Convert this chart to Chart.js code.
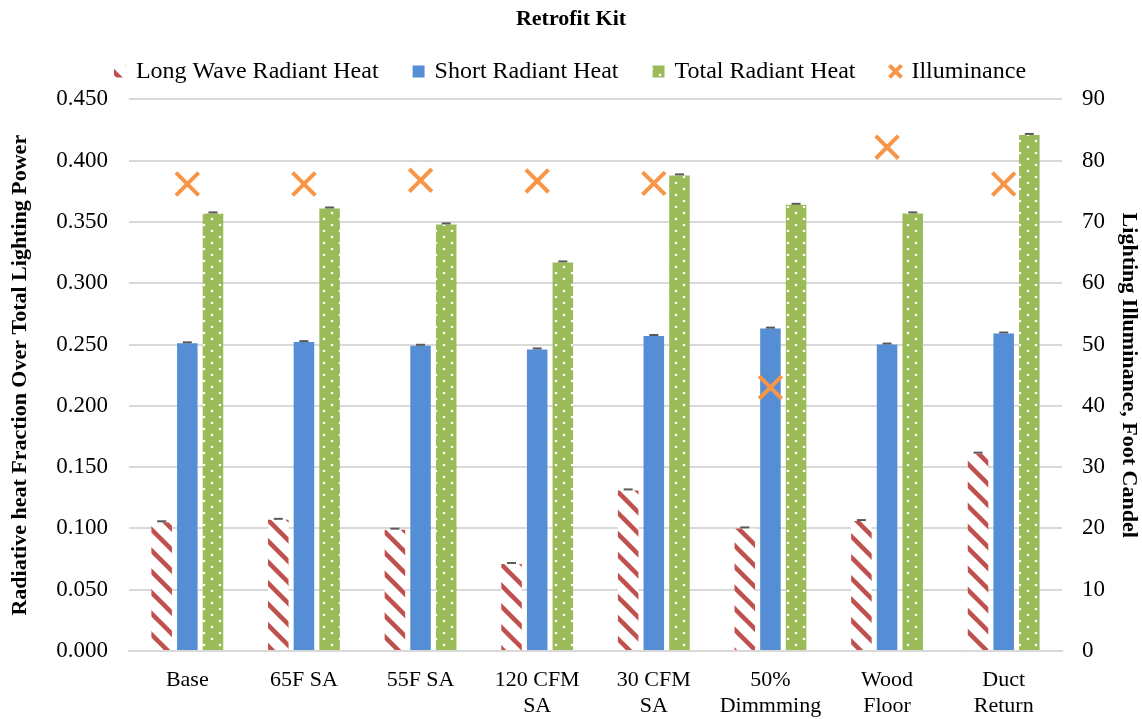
<!DOCTYPE html>
<html>
<head>
<meta charset="utf-8">
<script src="https://cdn.jsdelivr.net/npm/chart.js@4/dist/chart.umd.min.js"></script>
<style>
  html, body { margin: 0; padding: 0; background: #fff; }
  #wrap { width: 1142px; height: 719px; }
</style>
</head>
<body>
<div id="wrap"><canvas id="c"></canvas></div>
<script>
// Retrofit Kit — radiant heat fractions (left axis) + illuminance (right axis)

const categories = [
  'Base', '65F SA', '55F SA', ['120 CFM', 'SA'], ['30 CFM', 'SA'],
  ['50%', 'Dimmming'], ['Wood', 'Floor'], ['Duct', 'Return'],
];
const longWave    = [0.105, 0.107, 0.099, 0.071, 0.131, 0.100, 0.106, 0.161];
const shortWave   = [0.251, 0.252, 0.249, 0.246, 0.257, 0.263, 0.250, 0.259];
const totalHeat   = [0.357, 0.361, 0.348, 0.317, 0.388, 0.364, 0.357, 0.421];
const illuminance = [76.2, 76.2, 76.8, 76.7, 76.3, 43.0, 82.2, 76.2];

const leftTicks  = { min: 0, max: 0.45, step: 0.05 };
const rightTicks = { min: 0, max: 90, step: 10 };

const RED = '#C0504D', BLUE = '#558ED5', GREEN = '#9BBB59', ORANGE = '#F79646';
const FONT = 'Liberation Serif, Times New Roman, serif';

// diagonal "\" red stripes on white
function stripePattern() {
  const P = 21;
  const c = document.createElement('canvas');
  c.width = P; c.height = P;
  const g = c.getContext('2d');
  g.fillStyle = '#fff';
  g.fillRect(0, 0, P, P);
  g.strokeStyle = RED;
  g.lineWidth = 4.5;
  for (const x0 of [-P, 0, P]) {
    g.beginPath();
    g.moveTo(x0 - 2, -2);
    g.lineTo(x0 + P + 2, P + 2);
    g.stroke();
  }
  return g.createPattern(c, 'repeat');
}

// green with small white dots, staggered
function dotPattern() {
  const c = document.createElement('canvas');
  c.width = 16; c.height = 12;
  const g = c.getContext('2d');
  g.fillStyle = GREEN;
  g.fillRect(0, 0, 16, 12);
  g.fillStyle = '#fff';
  for (const [x, y] of [[4, 3], [12, 9]]) {
    g.beginPath();
    g.arc(x, y, 1.3, 0, Math.PI * 2);
    g.fill();
  }
  return g.createPattern(c, 'repeat');
}

// tiny error-bar caps on top of each bar
const capPlugin = {
  id: 'caps',
  afterDatasetsDraw(chart) {
    const ctx = chart.ctx;
    ctx.save();
    ctx.strokeStyle = '#595959';
    ctx.lineWidth = 2;
    chart.data.datasets.forEach((ds, i) => {
      if (ds.type === 'line') return;
      chart.getDatasetMeta(i).data.forEach(bar => {
        ctx.beginPath();
        ctx.moveTo(bar.x - 4.5, bar.y - 1);
        ctx.lineTo(bar.x + 4.5, bar.y - 1);
        ctx.stroke();
      });
    });
    ctx.restore();
  }
};

// adjust the space the legend takes so the plot starts where the original does
const legendTrim = {
  id: 'legendTrim',
  beforeInit(chart) {
    const lg = chart.legend;
    if (!lg) return;
    const fit = lg.fit;
    lg.fit = function () {
      fit.call(this);
      this.height = this.height + 6;
    };
  }
};

const barCommon = {
  type: 'bar',
  yAxisID: 'y',
  barPercentage: 0.8,
  categoryPercentage: 0.66,
  borderWidth: 0,
  pointStyle: 'rect',
  order: 1,
};

new Chart(document.getElementById('c'), {
  data: {
    labels: categories,
    datasets: [
      { ...barCommon, label: 'Long Wave Radiant Heat', data: longWave, backgroundColor: stripePattern() },
      { ...barCommon, label: 'Short Radiant Heat', data: shortWave, backgroundColor: BLUE },
      { ...barCommon, label: 'Total Radiant Heat', data: totalHeat, backgroundColor: dotPattern() },
      {
        type: 'line', label: 'Illuminance', data: illuminance, yAxisID: 'y1',
        showLine: false, pointStyle: 'crossRot', pointRadius: 16, pointHoverRadius: 16,
        borderColor: ORANGE, backgroundColor: ORANGE, borderWidth: 4, order: 0,
      },
    ],
  },
  options: {
    responsive: true,
    maintainAspectRatio: false,
    animation: false,
    layout: { padding: { left: 0, right: 0, top: 6, bottom: 0 } },
    plugins: {
      title: {
        display: true, text: 'Retrofit Kit', color: '#000',
        font: { family: FONT, size: 22, weight: 'bold' },
        padding: { top: 0, bottom: -9 },
      },
      legend: {
        position: 'top',
        labels: {
          usePointStyle: true, boxHeight: 12, boxWidth: 8, padding: 36,
          color: '#000', font: { family: FONT, size: 24 },
          sort: (a, b) => a.datasetIndex - b.datasetIndex,
        },
      },
      tooltip: { enabled: false },
    },
    scales: {
      x: {
        grid: { display: false },
        border: { color: '#d9d9d9', width: 2 },
        ticks: { color: '#000', font: { family: FONT, size: 22, lineHeight: 1.15 }, maxRotation: 0, autoSkip: false, padding: 9 },
        afterFit: s => { s.height = 68; },
      },
      y: {
        position: 'left',
        min: leftTicks.min, max: leftTicks.max,
        ticks: { stepSize: leftTicks.step, color: '#000', font: { family: FONT, size: 23 },
                 callback: v => v.toFixed(3), padding: 21 },
        grid: { color: '#d9d9d9', lineWidth: 2, drawTicks: false },
        border: { display: false },
        title: { display: true, text: 'Radiative heat Fraction Over Total Lighting Power',
                 color: '#000', font: { family: FONT, size: 22, weight: 'bold' }, padding: { top: 7, bottom: 0 } },
        afterFit: s => { s.width = 129; },
      },
      y1: {
        position: 'right',
        min: rightTicks.min, max: rightTicks.max,
        ticks: { stepSize: rightTicks.step, color: '#000', font: { family: FONT, size: 23 }, padding: 20 },
        grid: { display: false, drawTicks: false },
        border: { display: false },
        title: { display: true, text: 'Lighting Illuminance, Foot Candel',
                 color: '#000', font: { family: FONT, size: 22, weight: 'bold' }, padding: { top: 0, bottom: 7 } },
        afterFit: s => { s.width = 80; },
      },
    },
  },
  plugins: [capPlugin, legendTrim],
});
</script>
</body>
</html>
